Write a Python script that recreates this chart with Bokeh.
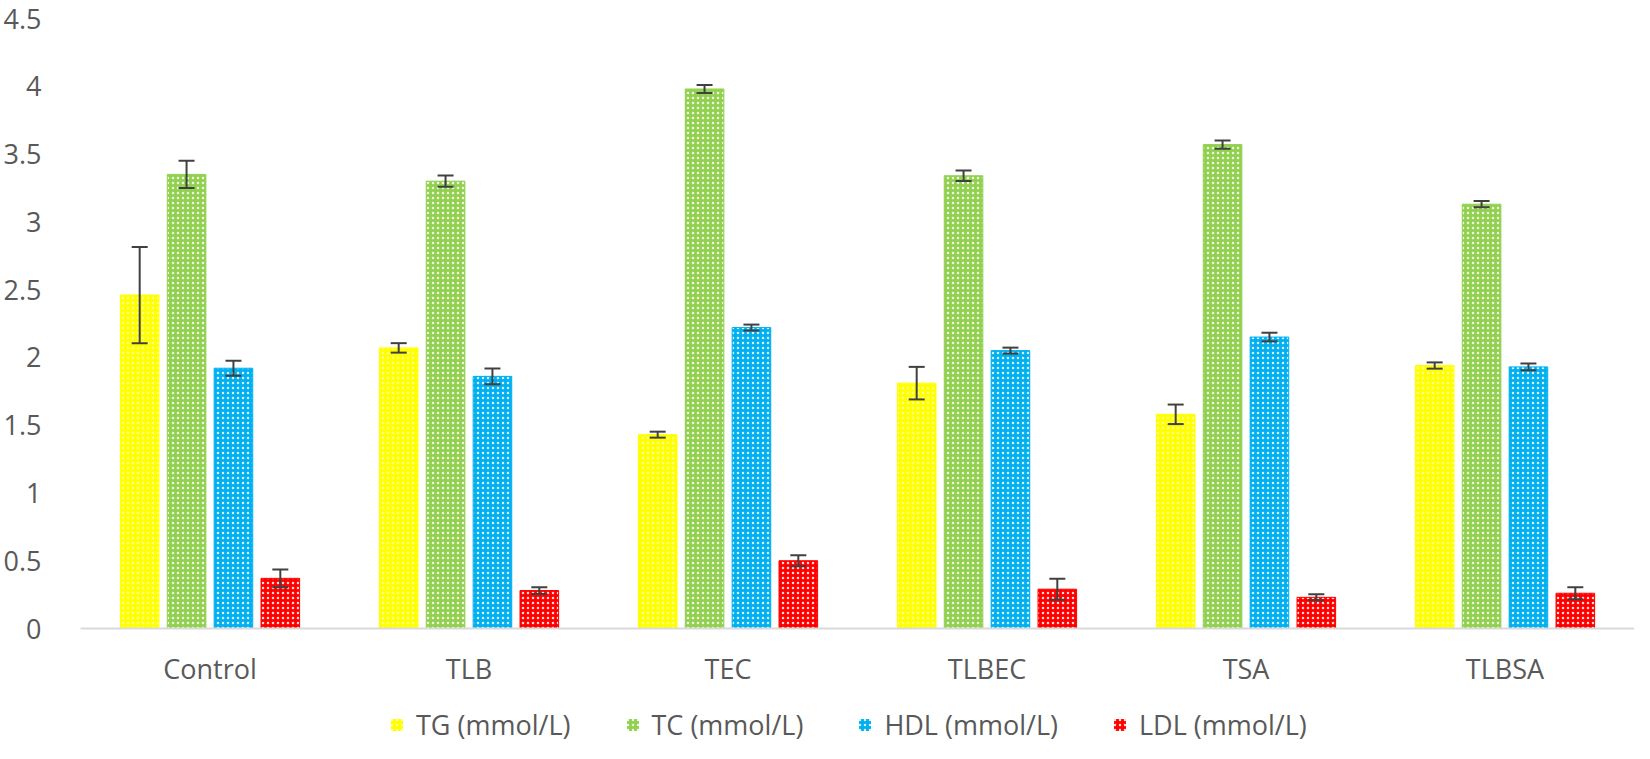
from bokeh.plotting import figure
from bokeh.layouts import column
from bokeh.models import (ColumnDataSource, FactorRange, Range1d, Whisker, TeeHead,
                          Legend, LegendItem, NumeralTickFormatter, FixedTicker)
from bokeh.transform import dodge
from bokeh.embed import file_html
from bokeh.resources import INLINE

categories = ["Control", "TLB", "TEC", "TLBEC", "TSA", "TLBSA"]
series_names = ["TG (mmol/L)", "TC (mmol/L)", "HDL (mmol/L)", "LDL (mmol/L)"]
tg = [2.46, 2.07, 1.43, 1.81, 1.58, 1.94]
tg_err = [0.355, 0.035, 0.022, 0.12, 0.072, 0.023]
tc = [3.35, 3.30, 3.98, 3.34, 3.57, 3.13]
tc_err = [0.10, 0.042, 0.029, 0.039, 0.030, 0.023]
hdl = [1.92, 1.86, 2.22, 2.05, 2.15, 1.93]
hdl_err = [0.055, 0.058, 0.022, 0.022, 0.032, 0.025]
ldl = [0.37, 0.28, 0.50, 0.29, 0.23, 0.26]
ldl_err = [0.065, 0.025, 0.040, 0.077, 0.022, 0.044]
y_ticks = [0, 0.5, 1, 1.5, 2, 2.5, 3, 3.5, 4, 4.5]

colors = ["#FFFF00", "#92D050", "#00B0F0", "#FF0000"]
hatch_alphas = [0.55, 0.85, 0.85, 0.85]
offsets = [-0.2715, -0.0905, 0.0905, 0.2715]
TEXT = "#595959"
FONT = "Open Sans"

xr = FactorRange(*categories, range_padding=0)
p = figure(x_range=xr, y_range=Range1d(0, 4.5),
           width=1634, height=689, output_backend="svg", toolbar_location=None,
           min_border_left=0, min_border_right=0, min_border_top=18, min_border_bottom=52)
p.outline_line_color = None
p.xgrid.grid_line_color = None
p.ygrid.grid_line_color = None
p.background_fill_color = "white"
p.border_fill_color = "white"

p.xaxis.axis_line_color = "#D9D9D9"
p.xaxis.axis_line_width = 2
p.xaxis.major_tick_line_color = None
p.xaxis.minor_tick_line_color = None
p.xaxis.major_label_text_font = FONT
p.xaxis.major_label_text_font_size = "27px"
p.xaxis.major_label_text_color = TEXT
p.xaxis.major_label_standoff = 15

p.yaxis.axis_line_color = None
p.yaxis.major_tick_line_color = None
p.yaxis.minor_tick_line_color = None
p.yaxis.ticker = FixedTicker(ticks=y_ticks)
p.yaxis.formatter = NumeralTickFormatter(format="0.[0]")
p.yaxis.major_label_text_font = FONT
p.yaxis.major_label_text_font_size = "27px"
p.yaxis.major_label_text_color = TEXT
p.yaxis.major_label_standoff = 33

# legend-only strip below the chart (same sources; zero-width bars out of view draw nothing)
lg = figure(x_range=xr, y_range=Range1d(-20, -19), width=1634, height=54,
            output_backend="svg", toolbar_location=None, x_axis_type=None, y_axis_type=None,
            min_border_left=0, min_border_right=0, min_border_top=0, min_border_bottom=0)
lg.outline_line_color = None
lg.xgrid.grid_line_color = None
lg.ygrid.grid_line_color = None
lg.background_fill_color = "white"
lg.border_fill_color = "white"

items = []
for name, vals, errs, col, off, ha in zip(series_names, [tg, tc, hdl, ldl],
                                          [tg_err, tc_err, hdl_err, ldl_err],
                                          colors, offsets, hatch_alphas):
    src = ColumnDataSource(dict(cat=categories, top=vals,
                                upper=[v + e for v, e in zip(vals, errs)],
                                lower=[v - e for v, e in zip(vals, errs)]))
    style = dict(fill_color=col, hatch_pattern="dot", hatch_color="white",
                 hatch_alpha=ha, hatch_scale=5, hatch_weight=1.5)
    p.vbar(x=dodge("cat", off, range=xr), top="top", bottom=0, width=0.149,
           source=src, line_color=col, line_width=1, **style)
    w = Whisker(base=dodge("cat", off, range=xr), upper="upper", lower="lower",
                source=src, line_color="#404040", line_width=2, level="overlay",
                upper_head=TeeHead(size=16, line_color="#404040", line_width=2),
                lower_head=TeeHead(size=16, line_color="#404040", line_width=2))
    p.add_layout(w)
    r2 = lg.vbar(x=dodge("cat", off, range=xr), top="top", bottom=0, width=0,
                 source=src, line_color=None, **style)
    items.append(LegendItem(label=name, renderers=[r2]))

legend = Legend(items=items, orientation="horizontal", location=(309, 0),
                label_text_font=FONT, label_text_font_size="27px", label_text_color=TEXT,
                glyph_width=15, glyph_height=15, label_standoff=12, spacing=54,
                padding=0, margin=0, border_line_color=None, background_fill_alpha=0)
lg.add_layout(legend)

layout = column(p, lg, spacing=0)
open("out.html", "w").write(file_html(layout, INLINE))
